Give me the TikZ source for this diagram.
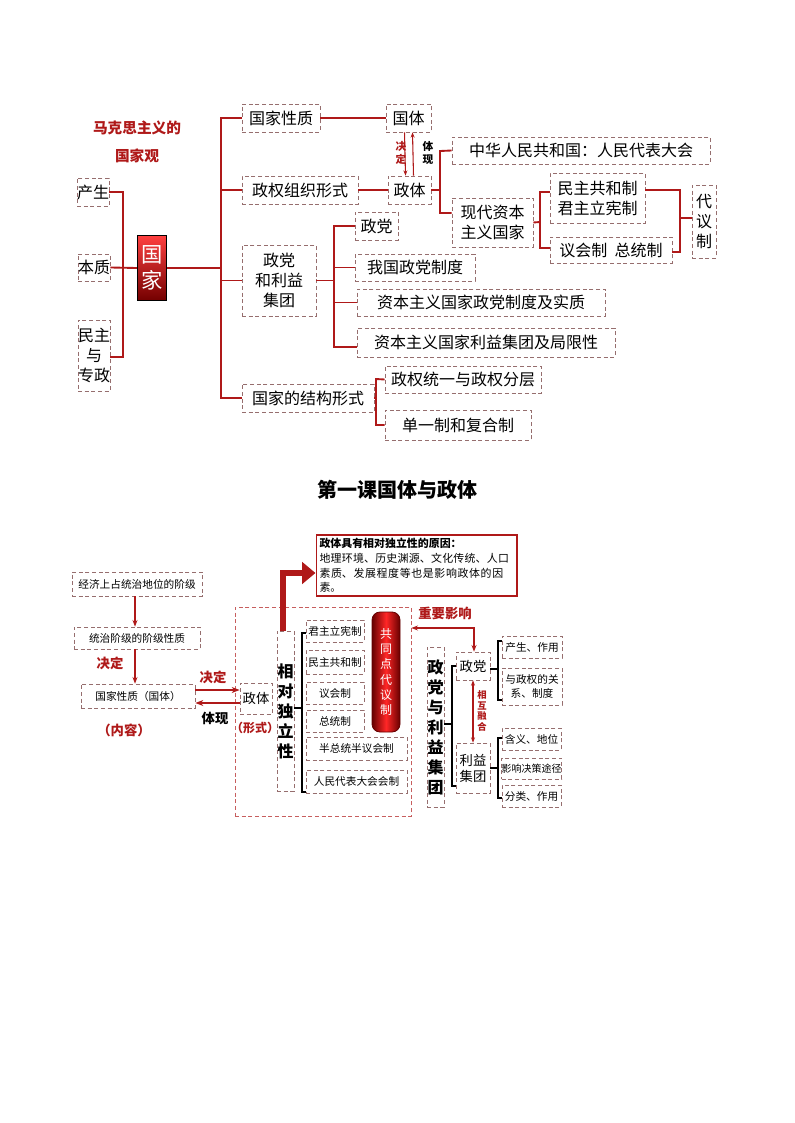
\documentclass[tikz,border=0pt]{standalone}
\usepackage{fontspec}
\setmainfont{Noto Sans CJK SC}
\newfontfamily\cjk{Noto Sans CJK SC}
\XeTeXlinebreaklocale "zh"
\XeTeXlinebreakskip=0pt plus 1pt
\usetikzlibrary{arrows.meta}
\definecolor{dr}{RGB}{175,25,25}
\definecolor{bd}{RGB}{150,110,110}
\tikzset{
 box/.style={draw=bd,densely dashed,line width=0.5pt,inner sep=0pt,align=center},
 ln/.style={draw=dr,line width=1.4pt},
 T/.style={font=\fontsize{12}{15}\selectfont},
 S/.style={font=\fontsize{8}{10}\selectfont},
 R/.style={text=dr,font=\bfseries\fontsize{10}{12}\selectfont},
}
\newcommand\bx[7][]{\node[box,#1,minimum width={(#4-#2)*0.75pt},minimum height={(#5-#3)*0.75pt}] (#6) at ({(#2+#4)/2},{(#3+#5)/2}) {#7};}
\begin{document}
\begin{tikzpicture}[x=0.75pt,y=-0.75pt]
\useasboundingbox (0,0) rectangle (794,1123);
% ---------- top ----------
\node[R,font=\bfseries\fontsize{11}{13}\selectfont] (t1) at (137,128) {马克思主义的};
\node[R,font=\bfseries\fontsize{11}{13}\selectfont] (t2) at (137,156) {国家观};
\bx[T]{78}{178}{108}{206}{cs}{产生}
\bx[T]{78}{254}{110}{281}{bz}{本质}
\bx[T]{78}{320}{110}{391}{mz}{民主\\与\\专政}
\node[draw=black,line width=0.8pt,top color=red!75,bottom color=red!45!black,text=white,inner sep=0pt,minimum width=29*0.75pt,minimum height=65*0.75pt,align=center,font=\fontsize{16}{20}\selectfont] (gj) at (152,268) {国\\家};
\coordinate (ls1) at (123,192); \coordinate (ls2) at (123,357);
\draw[ln] (cs.east) -- (ls1) -- (ls2) -- (mz.east|-ls2);
\draw[ln] (bz.east) -- (gj.west);
\bx[T]{242}{104}{320}{132}{xz}{国家性质}
\bx[T]{242}{176}{358}{204}{zq}{政权组织形式}
\bx[T]{242}{245}{316}{316}{zd}{政党\\和利益\\集团}
\bx[T]{242}{384}{374}{412}{jg}{国家的结构形式}
\coordinate (ms1) at (221,118); \coordinate (ms2) at (221,398);
\draw[ln] (gj.east) -- (gj.east-|ms1);
\draw[ln] (xz.west) -- (ms1) -- (ms2) -- (jg.west);
\draw[ln] (zq.west) -- (zq.west-|ms1);
\draw[ln] (zd.west) -- (zd.west-|ms1);
\bx[T]{386}{104}{431}{132}{gt}{国体}
\bx[T]{388}{176}{431}{204}{zt}{政体}
\draw[ln] (xz.east) -- (gt.west);
\draw[ln] (zq.east) -- (zt.west);
\draw[dr,line width=0.8pt,-{Stealth[length=4pt]}] ([xshift=-3pt]gt.south) -- ([xshift=-3pt]zt.north);
\draw[dr,line width=0.8pt,-{Stealth[length=4pt]}] ([xshift=3pt]zt.north) -- ([xshift=3pt]gt.south);
\node[R,font=\bfseries\fontsize{8}{10}\selectfont,align=center] (jd0) at (401,153) {决\\定};
\node[font=\bfseries\fontsize{8}{10}\selectfont,align=center] (tx0) at (428,153) {体\\现};
\bx[T]{452}{137}{710}{164}{zh}{中华人民共和国：人民代表大会}
\bx[T]{452}{198}{533}{247}{xd}{现代资本\\主义国家}
\coordinate (zs1) at (440,151); \coordinate (zs2) at (440,213);
\draw[ln] (zt.east) -- (zt.east-|zs1);
\draw[ln] (zh.west) -- (zs1) -- (zs2) -- (zs2-|xd.west);
\bx[T]{550}{173}{645}{223}{mg}{民主共和制\\君主立宪制}
\bx[T]{550}{237}{672}{263}{yz}{议会制\ \ 总统制}
\coordinate (xs1) at (540,192); \coordinate (xs2) at (540,248);
\draw[ln] (xd.east) -- (540,222);
\draw[ln] (mg.west|-xs1) -- (xs1) -- (xs2) -- (yz.west|-xs2);
\bx[T]{692}{185}{716}{258}{dy}{代\\议\\制}
\coordinate (ds1) at (680,190); \coordinate (ds2) at (680,252);
\draw[ln] (mg.east|-ds1) -- (ds1) -- (ds2) -- (yz.east|-ds2);
\draw[ln] (680,218) -- (dy.west|-0,218);
\bx[T]{355}{212}{398}{240}{dd}{政党}
\bx[T]{355}{254}{475}{281}{wg}{我国政党制度}
\bx[T]{357}{289}{605}{316}{zb}{资本主义国家政党制度及实质}
\bx[T]{357}{328}{615}{357}{lj}{资本主义国家利益集团及局限性}
\coordinate (ps1) at (334,226); \coordinate (ps2) at (334,347);
\draw[ln] (zd.east) -- (zd.east-|ps1);
\draw[ln] (dd.west) -- (ps1) -- (ps2) -- (lj.west|-ps2);
\draw[ln] (wg.west) -- (wg.west-|ps1);
\draw[ln] (zb.west) -- (zb.west-|ps1);
\bx[T]{385}{366}{541}{393}{tq}{政权统一与政权分层}
\bx[T]{385}{410}{531}{440}{dz}{单一制和复合制}
\coordinate (js1) at (376,379); \coordinate (js2) at (376,425);
\draw[ln] (jg.east) -- (jg.east-|js1);
\draw[ln] (tq.west) -- (js1) -- (js2) -- (dz.west);
% ---------- title ----------
\node[font=\bfseries\fontsize{15}{18}\selectfont] (title) at (397,490) {第一课国体与政体};
% ---------- bottom ----------
\bx[S]{72}{572}{202}{596}{jj}{经济上占统治地位的阶级}
\bx[S]{74}{627}{200}{649}{tz}{统治阶级的阶级性质}
\bx[S]{81}{684}{195}{708}{gx}{国家性质（国体）}
\draw[dr,line width=1pt,-{Stealth[length=5pt]}] (jj.south-|135,0) -- (tz.north-|135,0);
\draw[dr,line width=1pt,-{Stealth[length=5pt]}] (tz.south-|135,0) -- (gx.north-|135,0);
\node[R] (jd1) at (110,663) {决定};
\node[R] (nr) at (124,730) {（内容）};
\node[box,minimum width=176*0.75pt,minimum height=209*0.75pt,draw=dr!70] (big) at (323,711.5) {};
\bx[font=\fontsize{10}{12}\selectfont]{240}{683}{272}{714}{zt2}{政体}
\node[R,font=\bfseries\fontsize{9}{11}\selectfont,inner sep=0pt] (xs) at (255,728) {（形式）};
\draw[dr,line width=1.2pt,-{Stealth[length=6pt]}] (gx.east|-0,690) -- (zt2.west|-0,690);
\draw[dr,line width=1.2pt,-{Stealth[length=6pt]}] (zt2.west|-0,703) -- (gx.east|-0,703);
\node[R] (jd2) at (213,677) {决定};
\node[font=\bfseries\fontsize{10}{12}\selectfont] (tx2) at (215,718) {体现};
\bx[font=\bfseries\fontsize{12}{15}\selectfont]{277}{631}{294}{791}{xd2}{相\\对\\独\\立\\性}
\node[draw=dr,line width=1pt,inner sep=2.5pt,text width=194*0.75pt,align=left,font=\fontsize{8.2}{11}\selectfont] (note) at (416.5,565.5) {\textbf{政体具有相对独立性的原因：}\\地理环境、历史渊源、文化传统、人口素质、发展程度等也是影响政体的因素。};
\draw[dr,line width=5pt,-{Triangle[length=10pt,width=16pt]}] (xd2.north-|283,0) -- (283,573) -- (note.west|-0,573);
\bx[S]{306}{620}{364}{642}{b1}{君主立宪制}
\bx[S]{306}{650}{364}{674}{b2}{民主共和制}
\bx[S]{306}{682}{364}{704}{b3}{议会制}
\bx[S]{306}{710}{364}{732}{b4}{总统制}
\bx[S]{306}{737}{407}{760}{b5}{半总统半议会制}
\bx[S]{306}{770}{407}{793}{b6}{人民代表大会会制}
\coordinate (bs1) at (302,633); \coordinate (bs2) at (302,792);
\draw[draw=black,line width=1pt] (b1.west|-bs1) -- (bs1) -- (bs2) -- (b6.west|-bs2);
\draw[draw=black,line width=1pt] (xd2.east|-0,708) -- (302,708);
\node[draw=red!40!black,rounded corners=6pt,line width=0.6pt,left color=red!40!black,right color=red!40!black,middle color=red!85,text=white,inner sep=0pt,minimum width=28*0.75pt,minimum height=120*0.75pt,align=center,font=\fontsize{9}{11.5}\selectfont] (gt2) at (386,672) {共\\同\\点\\代\\议\\制};
\node[R] (zy) at (445,613) {重要影响};
\bx[font=\bfseries\fontsize{12}{15}\selectfont]{427}{647}{444}{807}{zd2}{政\\党\\与\\利\\益\\集\\团}
\bx[font=\fontsize{10}{12}\selectfont]{456}{652}{490}{680}{dang}{政党}
\bx[font=\fontsize{10}{12}\selectfont,align=center]{456}{743}{490}{793}{ly}{利益\\集团}
\coordinate (zyc) at (474,628);
\draw[dr,line width=1pt,{Stealth[length=5pt]}-{Stealth[length=5pt]}] (big.east|-zyc) -- (zyc) -- (dang.north-|zyc);
\draw[dr,line width=1pt,{Stealth[length=4pt]}-{Stealth[length=4pt]}] (dang.south-|473,0) -- (ly.north-|473,0);
\node[R,font=\bfseries\fontsize{7}{8}\selectfont,align=center] (hr) at (482,711) {相\\互\\融\\合};
\coordinate (zs3) at (452,666); \coordinate (zs4) at (452,786);
\draw[draw=black,line width=1pt] (dang.west|-zs3) -- (zs3) -- (zs4) -- (ly.west|-zs4);
\draw[draw=black,line width=1pt] (zd2.east|-0,724) -- (452,724);
\bx[S]{502}{636}{562}{658}{c1}{产生、作用}
\bx[S]{502}{668}{562}{705}{c2}{与政权的关\\系、制度}
\coordinate (cs1) at (498,641); \coordinate (cs2) at (498,700);
\draw[draw=black,line width=1pt] (c1.west|-cs1) -- (cs1) -- (cs2) -- (c2.west|-cs2);
\draw[draw=black,line width=1pt] (dang.east|-0,669) -- (498,669);
\bx[S]{502}{728}{561}{750}{d1}{含义、地位}
\bx[font=\fontsize{7.5}{9}\selectfont]{502}{758}{561}{779}{d2}{影响决策途径}
\bx[S]{502}{785}{561}{807}{d3}{分类、作用}
\coordinate (es1) at (498,738); \coordinate (es2) at (498,798);
\draw[draw=black,line width=1pt] (d1.west|-es1) -- (es1) -- (es2) -- (d3.west|-es2);
\draw[draw=black,line width=1pt] (ly.east) -- (498,768);
\end{tikzpicture}
\end{document}
